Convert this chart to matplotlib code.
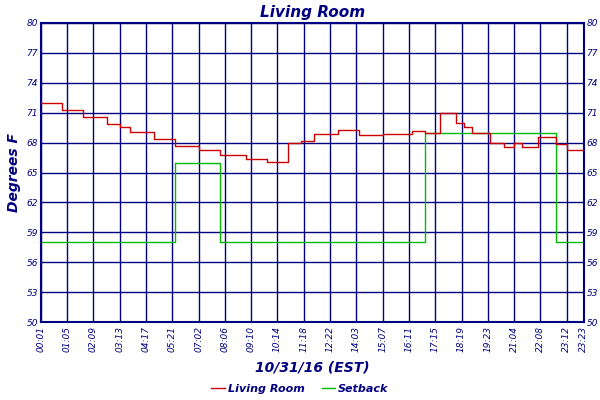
import matplotlib
matplotlib.use("Agg")
import matplotlib.pyplot as plt

NAVY = "#000080"
tick_labels = ["00:01","01:05","02:09","03:13","04:17","05:21","07:02","08:06","09:10","10:14",
               "11:18","12:22","14:03","15:07","16:11","17:15","18:19","19:23","21:04","22:08","23:12","23:23"]
tick_pos = list(range(21)) + [20.65]

# red living-room temperature: breakpoints (sample index units) and values (step)
room_x = [0.0,0.8,1.6,2.5,3.0,3.4,4.3,5.1,6.0,6.8,7.8,8.6,9.4,9.9,10.4,10.8,11.3,12.1,13.0,14.1,14.6,15.2,
          15.8,16.1,16.4,17.1,17.6,18.0,18.3,18.9,19.6,20.0,20.65]
room_y = [72.0,71.3,70.6,69.9,69.6,69.1,68.4,67.7,67.3,66.8,66.4,66.1,68.0,68.2,68.9,68.9,69.3,68.8,68.9,69.2,
          69.0,71.0,70.0,69.6,69.0,68.0,67.6,68.0,67.6,68.6,67.9,67.3,67.3]
set_x = [0.0,5.1,6.8,14.6,19.6,20.65]
set_y = [58.0,66.0,58.0,69.0,58.0,58.0]

fig = plt.figure(figsize=(6,4), dpi=100)
ax = fig.add_axes([0.068,0.195,0.905,0.7475])
ax.step(room_x, room_y, where="post", color="#cc0000", lw=1, label="Living Room", zorder=3)
ax.step(set_x, set_y, where="post", color="#00bb00", lw=1, label="Setback", zorder=2)
ax.set_xlim(0,20.65); ax.set_ylim(50,80)
ax.set_yticks(range(50,81,3))
ax.set_xticks(tick_pos)
ax.set_xticklabels(tick_labels, rotation=90, fontsize=6.5, style="italic", color=NAVY)
ax.tick_params(axis="y", labelsize=6.5, colors=NAVY, right=True, labelright=True, length=0, pad=2)
ax.tick_params(axis="x", length=0, colors=NAVY, pad=3)
for lab in ax.get_yticklabels(which="both"):
    lab.set_style("italic")
for lab in ax.yaxis.get_ticklabels(which="both"):
    lab.set_style("italic")
for t in ax.yaxis.get_major_ticks():
    t.label2.set_style("italic")
ax.grid(True, color=NAVY, lw=1)
for s in ax.spines.values():
    s.set_color(NAVY); s.set_linewidth(1.5)
ax.set_title("Living Room", fontsize=11, style="italic", fontweight="bold", color=NAVY, pad=4)
ax.set_ylabel("Degrees F", fontsize=10, style="italic", fontweight="bold", color=NAVY, labelpad=4)
ax.set_xlabel("10/31/16 (EST)", fontsize=10, style="italic", fontweight="bold", color=NAVY, labelpad=6)
leg = fig.legend(loc="lower center", ncol=2, frameon=False, bbox_to_anchor=(0.5,-0.01),
                 prop={"size":8,"style":"italic","weight":"bold"}, handlelength=1.2, columnspacing=1.5, handletextpad=0.3)
for t in leg.get_texts(): t.set_color(NAVY)
fig.savefig("out.png", dpi=100)
